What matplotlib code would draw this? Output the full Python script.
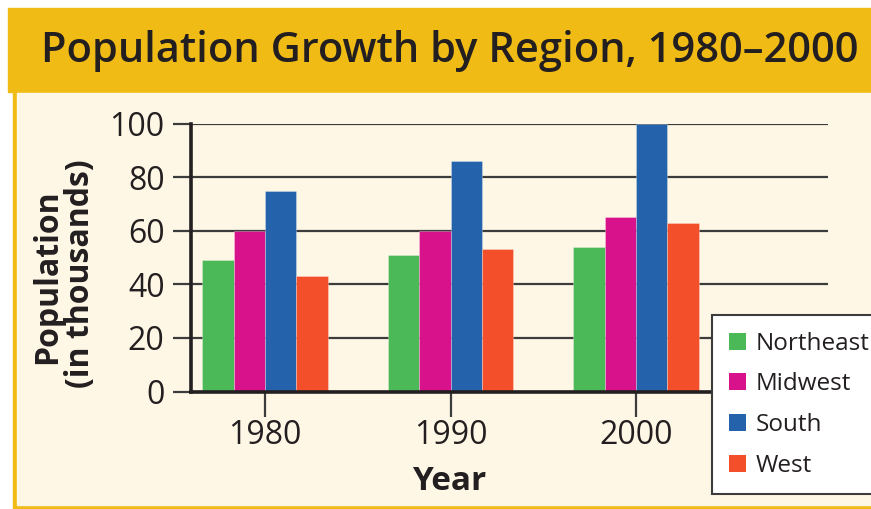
import numpy as np
import matplotlib
matplotlib.use("Agg")
import matplotlib.pyplot as plt
from matplotlib.patches import Rectangle, Patch

# data
years = ["1980", "1990", "2000"]
regions = ["Northeast", "Midwest", "South", "West"]
northeast = [49, 51, 54]
midwest = [60, 60, 65]
south = [75, 86, 100]
west = [43, 53, 63]
yticks = [0, 20, 40, 60, 80, 100]

colors = ["#4bb957", "#d8128b", "#2462ab", "#f24f2a"]
cream = "#fff7e6"
gold = "#f0bb15"
ink = "#231f20"

plt.rcParams["font.family"] = ["Open Sans", "DejaVu Sans"]

W, H = 871, 509
fig = plt.figure(figsize=(W / 100, H / 100), dpi=100, facecolor="white")

def px(x0, y0, x1, y1):  # pixel box -> figure fraction rect
    return (x0 / W, 1 - y1 / H, (x1 - x0) / W, (y1 - y0) / H)

# frame: gold banner + gold border around cream panel
for box, col in [((8, 8, 871, 92), gold), ((13, 92, 871, 509), gold), ((17, 93, 871, 505), cream)]:
    x, y, w, h = px(*box)
    fig.patches.append(Rectangle((x, y), w, h, transform=fig.transFigure, color=col, zorder=-10))

fig.text(450 / W, 1 - 51 / H, "Population Growth by Region, 1980\u20132000",
         ha="center", va="center", fontsize=30, fontweight="semibold", color=ink)

ax = fig.add_axes(px(191, 123.5, 828, 391.5), zorder=2)
ax.set_facecolor(cream)

x = np.arange(len(years))
bw = 0.169
series = [northeast, midwest, south, west]
for i, (vals, c) in enumerate(zip(series, colors)):
    ax.bar(x + (i - 1.5) * bw, vals, width=bw, color=c, edgecolor="#ffffff55", lw=0.6, zorder=3)

ax.set_xlim(-0.399, 3.035)
ax.set_ylim(0, 100)
ax.set_yticks(yticks)
ax.set_xticks(x)
ax.set_xticklabels(years)
ax.yaxis.grid(True, color="#3c3c3c", lw=1.6, zorder=1)
ax.set_axisbelow(True)
for s in ["top", "right"]:
    ax.spines[s].set_visible(False)
ax.spines["left"].set_linewidth(2.6)
ax.spines["bottom"].set_linewidth(2.6)
ax.spines["left"].set_color(ink)
ax.spines["bottom"].set_color(ink)
ax.spines["left"].set_zorder(4)
ax.spines["bottom"].set_zorder(4)
ax.tick_params(axis="y", length=13, width=1.6, color="#3c3c3c", labelsize=23, pad=6, labelcolor=ink)
ax.tick_params(axis="x", length=18, width=1.6, color="#3c3c3c", labelsize=23, pad=2, labelcolor=ink)

fig.text(48 / W, 1 - 277 / H, "Population", rotation=90, ha="center", va="center",
         fontsize=23, fontweight="bold", color=ink)
fig.text(81 / W, 1 - 274 / H, "(in thousands)", rotation=90, ha="center", va="center",
         fontsize=23, fontweight="bold", color=ink)
fig.text(449 / W, 1 - 481 / H, "Year", ha="center", va="center",
         fontsize=24, fontweight="bold", color=ink)

handles = [Patch(facecolor=c, edgecolor="none") for c in colors]
leg = fig.legend(handles, regions, loc="upper left", bbox_to_anchor=(712 / W, 1 - 315 / H),
                 fontsize=17.5, frameon=True, fancybox=False, handlelength=0.7, handleheight=0.7,
                 handletextpad=0.4, labelspacing=0.69, borderpad=0.68, borderaxespad=0)
leg.set_zorder(5)
leg.get_frame().set_edgecolor("#3c3c3c")
leg.get_frame().set_linewidth(1.5)
leg.get_frame().set_facecolor("white")
leg.get_frame().set_alpha(1)
for t in leg.get_texts():
    t.set_color(ink)

fig.savefig("out.png", dpi=100)
